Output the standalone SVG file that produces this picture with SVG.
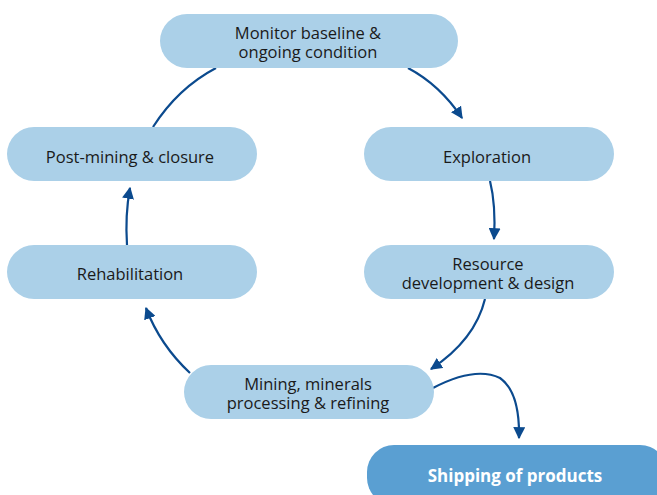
<svg xmlns="http://www.w3.org/2000/svg" width="657" height="495" viewBox="0 0 657 495">
<defs>
<style>
.n{fill:#abd0e8}
.s{fill:#5a9fd2}
.t{font-family:"Open Sans","Liberation Sans",sans-serif;font-size:16.5px;fill:#1a1a1a;text-anchor:middle}
.tb{font-family:"Open Sans","Liberation Sans",sans-serif;font-size:17px;font-weight:bold;fill:#ffffff;text-anchor:middle}
.c{fill:none;stroke:#0b4a8e;stroke-width:2.2}
</style>
<marker id="ah2" viewBox="0 0 10 10" refX="9" refY="5" markerWidth="12" markerHeight="12" markerUnits="userSpaceOnUse" orient="auto">
<path d="M0,0 L10,5 L0,10 z" fill="#0b4a8e"/>
</marker>
</defs>
<rect width="657" height="495" fill="#ffffff"/>
<g id="connectors">
<path class="c" d="M408,68 Q440,85 462,118" marker-end="url(#ah2)"/>
<path class="c" d="M490,181 Q496,205 494,239" marker-end="url(#ah2)"/>
<path class="c" d="M485,299 Q475,340 431,369" marker-end="url(#ah2)"/>
<path class="c" d="M190,373 Q160,345 146,308" marker-end="url(#ah2)"/>
<path class="c" d="M127,245 Q125,215 130,188" marker-end="url(#ah2)"/>
<path class="c" d="M153,127 Q178,88 216,68"/>
<path class="c" d="M433,388 Q475,366 500,378 Q520,392 519,438" marker-end="url(#ah2)"/>
</g>
<g id="monitor">
<rect class="n" x="160" y="14" width="298" height="54" rx="27"/>
<text class="t" x="308" y="39">Monitor baseline &amp;</text>
<text class="t" x="308" y="58">ongoing condition</text>
</g>
<g id="postmining">
<rect class="n" x="7" y="127" width="250" height="54" rx="27"/>
<text class="t" x="130" y="163">Post-mining &amp; closure</text>
</g>
<g id="exploration">
<rect class="n" x="364" y="127" width="250" height="54" rx="27"/>
<text class="t" x="487" y="163">Exploration</text>
</g>
<g id="rehabilitation">
<rect class="n" x="7" y="245" width="250" height="54" rx="27"/>
<text class="t" x="130" y="280">Rehabilitation</text>
</g>
<g id="resource">
<rect class="n" x="364" y="245" width="250" height="54" rx="27"/>
<text class="t" x="488" y="270">Resource</text>
<text class="t" x="488" y="289">development &amp; design</text>
</g>
<g id="mining">
<rect class="n" x="184" y="365" width="250" height="54" rx="27"/>
<text class="t" x="308" y="390">Mining, minerals</text>
<text class="t" x="308" y="409">processing &amp; refining</text>
</g>
<g id="shipping">
<rect class="s" x="367" y="445" width="300" height="60" rx="27"/>
<text class="tb" x="515" y="482">Shipping of products</text>
</g>
</svg>
